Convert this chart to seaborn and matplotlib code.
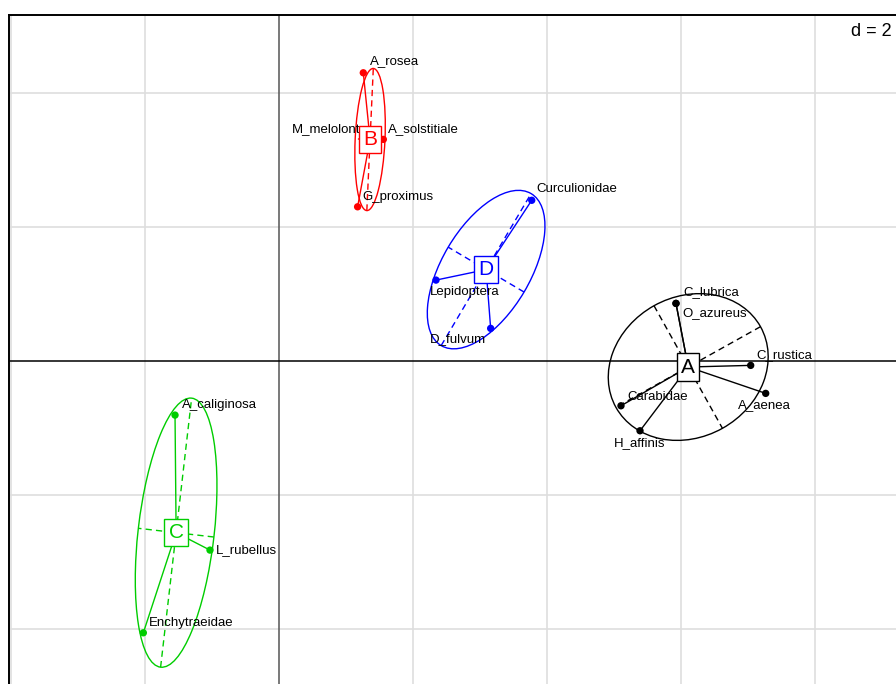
import numpy as np
import pandas as pd
import matplotlib
matplotlib.use("Agg")
import matplotlib.pyplot as plt
from matplotlib.patches import Ellipse
import seaborn as sns

# ---------------- data ----------------
species = ["C_lubrica", "O_azureus", "C_rustica", "A_aenea", "Carabidae", "H_affinis",
           "A_rosea", "A_solstitiale", "M_melolont", "G_proximus",
           "A_caliginosa", "L_rubellus", "Enchytraeidae",
           "Curculionidae", "Lepidoptera", "D_fulvum"]
groups = ["A", "A", "A", "A", "A", "A",
          "B", "B", "B", "B",
          "C", "C", "C",
          "D", "D", "D"]
x_vals = [5.925, 5.925, 7.040, 7.264, 5.104, 5.388,
          1.258, 1.557, 1.448, 1.173,
          -1.552, -1.030, -2.025,
          3.772, 2.343, 3.159]
y_vals = [0.861, 0.861, -0.064, -0.482, -0.667, -1.040,
          4.303, 3.309, 3.313, 2.303,
          -0.806, -2.821, -4.055,
          2.400, 1.209, 0.488]
group_order = ["A", "B", "C", "D"]
grid_step = 2

# ---------------- styles ----------------
group_colors = {"A": "black", "B": "red", "C": "#00CD00", "D": "blue"}
# label placement (pixels: dx right, dy down, horizontal alignment)
label_offsets = {
    "C_lubrica": (7, -11, "left"), "O_azureus": (6, 10, "left"),
    "C_rustica": (6, -10, "left"), "A_aenea": (-28, 12, "left"),
    "Carabidae": (6, -9, "left"), "H_affinis": (-26, 12, "left"),
    "A_rosea": (7, -12, "left"), "A_solstitiale": (5, -10, "left"),
    "M_melolont": (-16, -10, "right"), "G_proximus": (5, -10, "left"),
    "A_caliginosa": (7, -10, "left"), "L_rubellus": (6, 0, "left"),
    "Enchytraeidae": (6, -10, "left"),
    "Curculionidae": (5, -11, "left"), "Lepidoptera": (-6, 12, "left"),
    "D_fulvum": (-5, 11, "right"),
}
cellipse = 1.5

sns.set_style("white")
plt.rcParams["font.family"] = ["Liberation Sans", "DejaVu Sans"]

df = pd.DataFrame({"species": species, "group": groups, "x": x_vals, "y": y_vals})

W, H, DPI = 896, 684, 100
fig = plt.figure(figsize=(W / DPI, H / DPI), dpi=DPI)
ppu = 67.0  # pixels per unit
xlim = (-4.03, 9.6)
ylim = (-5.1, 5.17)
left_px, top_px = 9, 14.7
ax_w = (xlim[1] - xlim[0]) * ppu
ax_h = (ylim[1] - ylim[0]) * ppu
ax = fig.add_axes([left_px / W, (H - top_px - ax_h) / H, ax_w / W, ax_h / H])
ax.set_xlim(*xlim)
ax.set_ylim(*ylim)
ax.set_xticks([])
ax.set_yticks([])
for s in ["left", "top", "right", "bottom"]:
    ax.spines[s].set_color("black")
    ax.spines[s].set_linewidth(1.4)

# grid
for gx in np.arange(-4, 10, grid_step):
    if gx != 0:
        ax.axvline(gx, color="#dedede", lw=1.2, zorder=0)
for gy in np.arange(-4, 6, grid_step):
    if gy != 0:
        ax.axhline(gy, color="#dedede", lw=1.2, zorder=0)
ax.axvline(0, color="#555555", lw=1.1, zorder=1)
ax.axhline(0, color="black", lw=1.1, zorder=1)

# ellipses, axes, stars
centers = {}
for g in group_order:
    sub = df[df["group"] == g]
    pts = sub[["x", "y"]].to_numpy()
    c = pts.mean(axis=0)
    centers[g] = c
    cov = np.cov(pts.T, ddof=0)
    vals, vecs = np.linalg.eigh(cov)
    col = group_colors[g]
    big = vecs[:, 1]
    ang = np.degrees(np.arctan2(big[1], big[0]))
    e = Ellipse(c, 2 * cellipse * np.sqrt(vals[1]), 2 * cellipse * np.sqrt(vals[0]),
                angle=ang, fill=False, ec=col, lw=1.0, zorder=2)
    ax.add_patch(e)
    for k in range(2):
        v = vecs[:, k] * cellipse * np.sqrt(vals[k])
        ax.plot([c[0] - v[0], c[0] + v[0]], [c[1] - v[1], c[1] + v[1]],
                color=col, lw=1.0, ls=(0, (4.5, 3)), zorder=2)
    for px_, py_ in pts:
        ax.plot([c[0], px_], [c[1], py_], color=col, lw=1.0, zorder=3)

sns.scatterplot(data=df, x="x", y="y", hue="group", palette=group_colors,
                s=28, edgecolor="none", legend=False, ax=ax, zorder=4)
ax.set_xlabel("")
ax.set_ylabel("")

for _, r in df.iterrows():
    dx, dy, ha = label_offsets[r["species"]]
    ax.annotate(r["species"], (r["x"], r["y"]), xytext=(dx, -dy),
                textcoords="offset pixels", ha=ha, va="center",
                fontsize=9.5, color="black", zorder=5)

for g in group_order:
    c = centers[g]
    col = group_colors[g]
    ax.text(c[0], c[1], g, ha="center", va="center", color=col, fontsize=15,
            zorder=6,
            bbox=dict(boxstyle="square,pad=0.2", fc="white", ec=col, lw=1.0))

fig.text(892 / W, 1 - 32 / H, "d = 2", ha="right", va="center", fontsize=13,
         color="black", bbox=dict(boxstyle="square,pad=0.1", fc="white", ec="none"))

fig.savefig("out.png", dpi=DPI)
